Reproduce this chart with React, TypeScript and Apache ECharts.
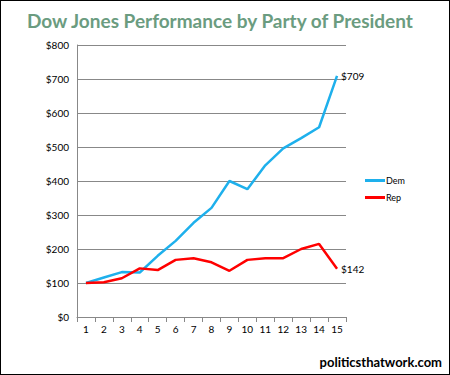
import React, { useEffect, useRef } from "react";
import * as echarts from "echarts";

const categories = ["1", "2", "3", "4", "5", "6", "7", "8", "9", "10", "11", "12", "13", "14", "15"];
const demValues = [100, 116, 132, 131, 180, 224, 277, 321, 400, 376, 446, 496, 526, 558, 709];
const repValues = [100, 102, 114, 143, 138, 168, 173, 161, 136, 168, 173, 173, 200, 215, 142];
const yTicks = [0, 100, 200, 300, 400, 500, 600, 700, 800];

const FONT = "Lato, 'DejaVu Sans', sans-serif";

const endLabel = {
  show: true,
  distance: 4,
  formatter: (p: any) => "$" + p.value,
  color: "#000",
  fontSize: 10,
  fontFamily: FONT,
};

export default function App() {
  const ref = useRef<HTMLDivElement>(null);
  useEffect(() => {
    const chart = echarts.init(ref.current!, null, { renderer: "svg" });
    chart.setOption({
      animation: false,
      backgroundColor: "#fff",
      title: {
        text: "Dow Jones Performance by Party of President",
        left: 21,
        top: 5,
        textStyle: { color: "#6b9c80", fontSize: 19, fontWeight: "bold", fontFamily: FONT },
      },
      graphic: [
        {
          type: "text",
          right: 7,
          bottom: 6,
          style: { text: "politicsthatwork.com", fill: "#000", font: "bold 13px " + FONT },
        },
      ],
      legend: {
        orient: "vertical",
        left: 359,
        top: 170,
        itemWidth: 20,
        itemHeight: 3,
        itemGap: 8,
        icon: "rect",
        textStyle: { fontSize: 9, color: "#000", fontFamily: FONT, padding: [0, 0, 0, -4] },
        data: ["Dem", "Rep"],
      },
      grid: { left: 76, right: 103, top: 44, bottom: 57 },
      xAxis: {
        type: "category",
        data: categories,
        boundaryGap: true,
        axisLine: { lineStyle: { color: "#888" } },
        axisTick: { show: true, length: 5, lineStyle: { color: "#888" } },
        axisLabel: { color: "#000", fontSize: 10, fontFamily: FONT, margin: 7 },
      },
      yAxis: {
        type: "value",
        min: yTicks[0],
        max: yTicks[yTicks.length - 1],
        interval: 100,
        axisLine: { show: true, lineStyle: { color: "#888" } },
        axisTick: { show: false },
        splitLine: { lineStyle: { color: "#888" } },
        axisLabel: { color: "#000", fontSize: 10, fontFamily: FONT, formatter: (v: number) => "$" + v, margin: 8 },
      },
      series: [
        {
          name: "Dem",
          type: "line",
          data: demValues,
          symbol: "none",
          endLabel,
          lineStyle: { color: "#1eb0ec", width: 2.5 },
          itemStyle: { color: "#1eb0ec" },
        },
        {
          name: "Rep",
          type: "line",
          data: repValues,
          symbol: "none",
          endLabel,
          lineStyle: { color: "#ff0000", width: 2.5 },
          itemStyle: { color: "#ff0000" },
        },
      ],
    });
    return () => chart.dispose();
  }, []);
  return (
    <div
      style={{
        position: "fixed",
        left: 0,
        top: 0,
        width: 450,
        height: 375,
        boxSizing: "border-box",
        border: "1px solid #000",
        background: "#fff",
      }}
    >
      <div ref={ref} style={{ width: 448, height: 373 }} />
    </div>
  );
}
